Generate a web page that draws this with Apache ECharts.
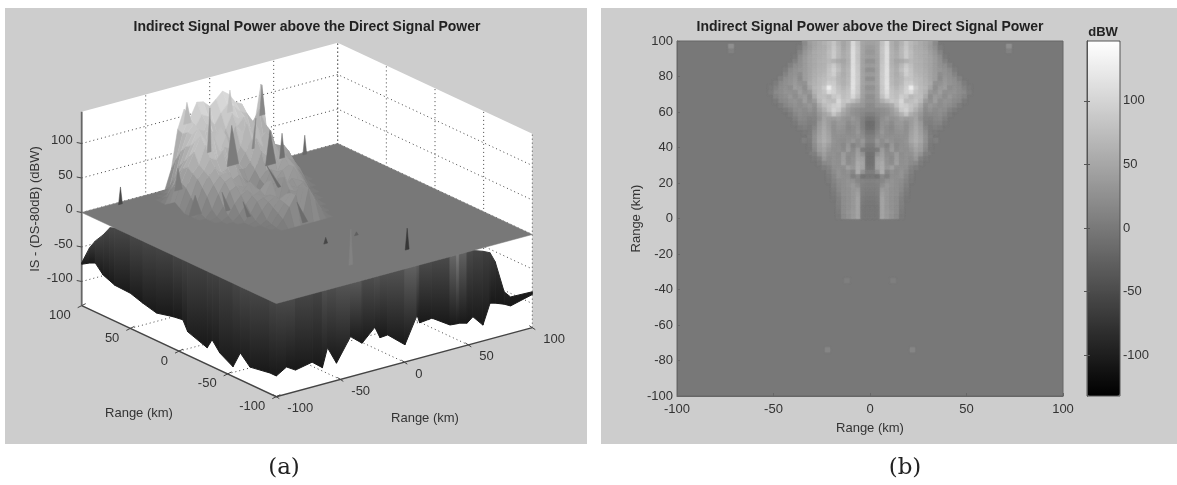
<!DOCTYPE html>
<html><head><meta charset="utf-8">
<style>html,body{margin:0;padding:0;background:#fff}#main{width:1177px;height:485px;filter:blur(0.7px)}</style>
<script src="https://cdn.jsdelivr.net/npm/echarts@6/dist/echarts.min.js"></script>
</head><body><div id="main"></div>
<script>
const titleText = 'Indirect Signal Power above the Direct Signal Power';
const rangeTicks = [-100,-50,0,50,100];
const zTicks = [-100,-50,0,50,100];
const barTicks = [-100,-50,0,50,100];
const zMin = -135, zMax = 146;
const cMin = -132, cMax = 147;

// (b) dBW read from the top view: rows from y=98.75 downward, columns x=1.25,3.75,... (figure is mirror symmetric)
const heatRows = [
[45,50,80,105,60,50,65,85,70,62,55,48,40,20],
[40,48,85,110,62,52,70,88,72,60,58,52,40,28,5],
[35,50,85,112,65,55,72,90,75,62,60,55,45,33,15],
[42,48,85,112,65,58,70,92,75,64,60,55,48,38,25,3],
[30,46,85,112,62,50,55,65,70,64,62,56,48,40,28,12],
[40,48,88,112,65,55,72,90,78,65,62,56,48,40,30,25,10],
[28,46,88,115,68,60,78,98,82,66,64,58,50,40,34,30,22,5],
[40,50,90,115,68,58,72,95,85,70,66,60,52,42,25,32,28,15],
[28,48,90,115,70,62,68,85,85,75,70,62,52,42,22,35,30,25,10],
[40,48,90,118,72,62,72,90,92,78,72,65,55,30,30,38,32,28,20,5],
[30,46,88,118,78,68,80,98,130,90,75,68,50,25,38,42,25,30,25,15,3],
[36,46,88,112,82,75,85,100,110,85,75,65,35,30,42,28,30,32,25,20,5],
[28,45,80,105,85,78,95,88,72,80,78,55,25,40,35,25,35,28,22,15],
[30,40,60,75,88,85,105,75,78,85,72,40,28,42,25,32,30,22,18,3],
[22,35,40,45,55,80,100,95,85,75,55,28,35,30,25,30,25,18,5],
[20,22,28,32,42,60,90,100,80,62,45,22,30,22,28,25,15,5],
[10,18,25,30,38,50,65,85,60,50,35,18,20,20,25,18,5],
[-2,12,28,35,30,35,45,40,42,50,30,15,12,18,20,10],
[-10,10,30,30,22,35,38,30,40,52,38,12,8,15,15,3],
[-8,12,32,25,20,32,35,28,42,55,42,18,5,10,5],
[0,18,35,25,22,30,32,28,45,58,45,25,5,3],
[10,25,32,28,28,28,30,30,50,60,50,30,8],
[15,35,25,35,30,25,28,32,52,62,52,30,5],
[5,30,25,15,35,20,28,30,42,55,45,25,3],
[0,5,40,20,40,22,30,28,35,48,42,20,2],
[-5,30,45,25,25,40,25,30,30,42,30,10],
[-5,45,50,30,22,42,28,30,25,35,12,3],
[-5,50,55,30,25,45,28,30,22,20,5],
[-2,50,58,35,45,28,30,28,15,8],
[8,30,60,18,30,25,32,22,10],
[0,-3,20,10,28,28,32,18,5],
[12,15,18,30,32,28,25,15,3],
[10,12,28,38,32,28,22,10],
[8,10,40,35,30,28,20,6],
[6,8,45,35,30,28,16,4],
[4,6,48,35,30,26,12,2],
[2,4,48,35,30,25,10],
[0,2,48,35,30,25,8],
[0,2,50,38,32,25,6],
[0,0,50,38,30,22,4]
];
const heatSpecks = [[72,97,25],[72,94.5,10],[22,-74,14],[12,-35,7],[34,44,8],[30,37,8]];

// (a) surface heights: rows y=100..0 step 5, columns x=-50..50 step 5
const surfY = [100,95,90,85,80,75,70,65,60,55,50,45,40,35,30,25,20,15,10,5,0];
const surfX = [-50,-45,-40,-35,-30,-25,-20,-15,-10,-5,0,5,10,15,20,25,30,35,40,45,50];
const surfZ = [
[0,0,0,0,28,83,110,96,115,113,104,112,121,114,100,95,73,60,116,41,8],
[0,0,0,8,45,80,100,85,100,95,80,95,105,100,90,85,70,85,60,30,0],
[0,0,5,25,60,85,95,70,90,75,60,75,95,85,85,60,65,40,55,20,0],
[0,5,25,45,70,85,90,85,80,60,55,60,80,90,70,75,55,45,35,25,0],
[0,20,40,55,75,95,80,60,85,70,50,85,75,50,80,65,50,45,40,22,0],
[5,35,50,65,85,90,75,80,95,55,45,60,90,70,60,70,55,40,35,20,0],
[10,35,55,75,95,80,90,65,85,50,40,55,70,85,50,65,45,50,30,15,0],
[5,30,50,60,85,85,60,75,70,40,35,45,75,60,70,55,35,45,25,5,0],
[0,20,45,55,70,65,75,55,50,30,20,35,60,50,65,45,40,35,20,0,0],
[0,10,35,50,60,50,55,60,40,25,5,25,35,60,40,50,30,25,10,0,0],
[0,3,25,40,50,55,40,45,30,20,0,20,40,35,55,45,20,15,0,0,0],
[0,0,10,30,45,50,35,30,35,25,10,25,30,40,45,40,25,5,0,0,0],
[0,0,3,15,35,40,30,40,30,15,20,30,35,25,45,30,15,0,0,0,0],
[0,0,0,5,20,30,35,25,30,40,15,40,25,35,30,25,5,0,0,0,0],
[0,0,0,0,8,20,30,30,25,45,5,45,30,25,30,15,0,0,0,0,0],
[0,0,0,0,0,10,25,28,30,25,10,30,25,30,20,8,0,0,0,0,0],
[0,0,0,0,0,3,15,25,30,20,15,15,30,25,12,0,0,0,0,0,0],
[0,0,0,0,0,0,5,20,30,35,10,40,30,20,5,0,0,0,0,0,0],
[0,0,0,0,0,0,2,15,28,40,5,45,28,15,0,0,0,0,0,0,0],
[0,0,0,0,0,0,0,10,25,40,2,45,25,10,0,0,0,0,0,0,0],
[0,0,0,0,0,0,0,0,0,0,0,0,0,0,0,0,0,0,0,0,0]
];
// isolated spikes on the flat plane: x, y, height, grey tone
const spikes = [[-72,97,25,70],[72,97,28,105],[22,-74,31,55],[-22,-74,52,130],[-12,-35,9,70],[12,-35,5,95]];
// folds of the raised surface, on the slice y=40: apex x, apex z, base left x, base right x, base z, tone
const foldY = 40;
const folds = [
[-63.4,181,-66,-60,150,185],
[-29.8,182,-32,-27.5,150,192],
[-28.4,130,-32,-23,72,124],
[-45.4,164,-47.5,-44.5,100,142],
[-4.8,177,-6.6,-2.4,133,135],
[-1,58,7.7,10,22,108],
[-70.4,89,-73,-67,57,124],
[-57,43,-62,-52,14,118],
[-19.6,15,-16.5,-13.6,-9,110],
[-36,37,-33,-29.5,8,116],
[1.5,108,-2,6,58,112],
[10.9,99,9,13,63,112],
[-9.5,131,-12.6,-10.8,88,135],
[22.6,-7,27,31,-39,108]
];

// underside curtain along the x=-100 edge
const leftY = [100,92,86,78,71,66,50,37,23,6,-4,-9,-29,-34,-42,-55.5,-63,-73,-93.5,-100];
const leftBottom = [-75,-68,-64,-76,-80,-83,-84,-90,-95,-89,-87,-101,-111,-96,-110,-121,-96,-110,-105,-105];
const leftTop = [-73,-46,-32,-18,-3,0,0,0,0,0,0,0,0,0,0,0,0,0,0,0];
const leftTone = [55,62,66,70,72,72,72,72,70,68,70,66,70,64,68,66,74,70,72,70];
// underside curtain along the y=-100 edge
const frontX = [-100,-92,-85,-72,-64,-60,-53,-42,-33,-23,-19,-13,0.5,10,12,21.6,35.7,41,43,49,53.6,61.4,67,71,78,83,100];
const frontBottom = [-105,-96,-104,-99,-111,-84,-110,-77,-91,-73,-90,-89,-110,-72,-84,-82,-99,-100,-100,-103,-96,-112,-83,-85,-90,-95,-87];
const frontTop = [0,0,0,0,0,0,0,0,0,0,0,0,0,0,0,0,0,0,0,0,0,-5,-10,-25,-72,-82,-83];
const frontTone = [75,70,80,60,75,85,70,100,80,75,90,70,95,100,80,70,80,125,125,70,75,60,65,55,40,30,25];

function project(x,y,z){ return [307+1.28*x-0.973*y, 223.5-0.345*x-0.455*y-0.69*z]; }
function grey(v){ v=Math.round(v); return 'rgb('+v+','+v+','+v+')'; }
function surfTone(z){ return 123+z*0.85; }

const heatData = [];
heatRows.forEach((row,r)=>{ const y=98.75-2.5*r; row.forEach((v,c)=>{ const x=1.25+2.5*c; heatData.push([x,y,v]); heatData.push([-x,y,v]); }); });
heatSpecks.forEach(s=>{ heatData.push([s[0],s[1],s[2]]); heatData.push([-s[0],s[1],s[2]]); });
const heatReverse = heatData.slice().reverse();

const faces = [];
function poly(pts,fill,stroke){ faces.push({k:'p',pts,fill,stroke}); }
function line(pts,color,w,dash){ faces.push({k:'l',pts,color,w,dash}); }
function text(p,t,align,dx,dy){ faces.push({k:'t',p,t,align,dx,dy}); }
const a=-100,b=100;
poly([project(a,b,zMax),project(b,b,zMax),project(b,a,zMax),project(b,a,zMin),project(a,a,zMin),project(a,b,zMin)],'#fff');
const dots='#444';
zTicks.forEach(z=>{ line([project(a,b,z),project(b,b,z),project(b,a,z)],dots,1,[1,3]); });
rangeTicks.forEach(t=>{ if(t===a) return;
  line([project(t,b,zMin),project(t,b,zMax)],dots,1,[1,3]);
  if(t!==b) line([project(b,t,zMin),project(b,t,zMax)],dots,1,[1,3]);
  if(t!==b){ line([project(t,a,zMin),project(t,b,zMin)],dots,1,[1,3]); line([project(a,t,zMin),project(b,t,zMin)],dots,1,[1,3]); }
});
line([project(b,b,zMin),project(b,b,zMax)],dots,1,[1,3]);
line([project(b,a,zMin),project(b,a,zMax)],dots,1,[1,3]);
const axisC='#444';
line([project(a,b,zMin),project(a,b,zMax)],'#666',1.8);
line([project(a,b,zMin),project(a,a,zMin),project(b,a,zMin)],axisC,1.5);
zTicks.forEach(z=>{ const p=project(a,b,z); line([[p[0]-5,p[1]-1],p],axisC,1); text(p,String(z),'right',-9,-3); });
rangeTicks.forEach(t=>{ const p=project(a,t,zMin); line([p,[p[0]-4,p[1]+2]],axisC,1); line([p,[p[0]+4,p[1]-2]],axisC,1); text(p,String(t),'right',-11,10);
  const q=project(t,a,zMin); line([q,[q[0]+3,q[1]+2]],axisC,1); line([q,[q[0]-3,q[1]-2]],axisC,1); text(q,String(t),'left',11,12); });
function curtain(n,pf,top,bot,tone){ for(let i=0;i<n-1;i++){ const t=(tone[i]+tone[i+1])/2;
  faces.push({k:'g',pts:[pf(i,top[i]),pf(i+1,top[i+1]),pf(i+1,bot[i+1]),pf(i,bot[i])],top:t}); } }
curtain(leftY.length,(i,z)=>project(a,leftY[i],z),leftTop,leftBottom,leftTone);
curtain(frontX.length,(i,z)=>project(frontX[i],a,z),frontTop,frontBottom,frontTone);
poly([project(a,b,0),project(b,b,0),project(b,a,0),project(a,a,0)],grey(120),grey(120));
for(let r=0;r<surfY.length-1;r++){ for(let c=surfX.length-2;c>=0;c--){
  const z=[surfZ[r][c],surfZ[r][c+1],surfZ[r+1][c+1],surfZ[r+1][c]];
  if(z.every(v=>v===0)) continue;
  const col=grey(surfTone((z[0]+z[1]+z[2]+z[3])/4));
  poly([project(surfX[c],surfY[r],z[0]),project(surfX[c+1],surfY[r],z[1]),project(surfX[c+1],surfY[r+1],z[2]),project(surfX[c],surfY[r+1],z[3])],col,col);
}}
folds.forEach(f=>{ poly([project(f[0],foldY,f[1]),project(f[3],foldY,f[4]),project(f[2],foldY,f[4])],grey(f[5]),grey(f[5])); });
spikes.forEach(s=>{ poly([project(s[0]-1.5,s[1],0),project(s[0]+1.5,s[1],0),project(s[0],s[1],s[2])],grey(s[3]),grey(s[3])); });

const txt='#333';
const font3d='13px "Liberation Sans"';
function heatItem(params,api){
  const x=api.value(0),y=api.value(1),p=api.coord([x-1.3,y+1.3]),q=api.coord([x+1.3,y-1.3]);
  const c=api.visual('color');
  return {type:'rect',shape:{x:p[0],y:p[1],width:q[0]-p[0],height:q[1]-p[1]},style:{fill:c,shadowColor:c,shadowBlur:2}};
}
const option={
  backgroundColor:'#fff', animation:false,
  title:[
    {text:titleText,left:302,top:15,textAlign:'center',textStyle:{fontSize:14,fontWeight:'bold',color:'#222',fontFamily:'Liberation Sans'}},
    {text:titleText,left:865,top:15,textAlign:'center',textStyle:{fontSize:14,fontWeight:'bold',color:'#222',fontFamily:'Liberation Sans'}}
  ],
  graphic:[
    {type:'rect',z:-10,silent:true,shape:{x:5,y:8,width:582,height:436},style:{fill:'#cdcdcd'}},
    {type:'rect',z:-10,silent:true,shape:{x:601,y:8,width:576,height:436},style:{fill:'#cdcdcd'}},
    {type:'rect',z:20,silent:true,shape:{x:1087,y:41,width:33,height:355},style:{fill:null,stroke:'#555',lineWidth:1}},
    {type:'text',z:10,x:284,y:468,style:{text:'(a)',font:'23px "DejaVu Serif"',fill:'#222',textAlign:'center',textVerticalAlign:'middle'}},
    {type:'text',z:10,x:905,y:468,style:{text:'(b)',font:'23px "DejaVu Serif"',fill:'#222',textAlign:'center',textVerticalAlign:'middle'}},
    {type:'text',z:10,x:1103,y:32,style:{text:'dBW',font:'bold 13px "Liberation Sans"',fill:'#222',textAlign:'center',textVerticalAlign:'middle'}},
    {type:'text',z:10,x:35,y:209,rotation:Math.PI/2,style:{text:'IS - (DS-80dB) (dBW)',font:font3d,fill:txt,textAlign:'center',textVerticalAlign:'middle'}},
    {type:'text',z:10,x:139,y:413,style:{text:'Range (km)',font:font3d,fill:txt,textAlign:'center',textVerticalAlign:'middle'}},
    {type:'text',z:10,x:425,y:418,style:{text:'Range (km)',font:font3d,fill:txt,textAlign:'center',textVerticalAlign:'middle'}}
  ],
  grid:[
    {left:677,top:41,width:386,height:355,show:true,backgroundColor:grey(120),borderColor:'#666',borderWidth:1},
    {left:1087,top:41,width:33,height:355,show:false},
    {left:0,top:0,width:1177,height:485,show:false}
  ],
  xAxis:[
    {gridIndex:0,type:'value',min:-100,max:100,interval:50,name:'Range (km)',nameLocation:'middle',nameGap:26,
     nameTextStyle:{fontSize:13,color:txt,fontFamily:'Liberation Sans'},splitLine:{show:false},
     axisLine:{onZero:false,lineStyle:{color:'#666'}},axisTick:{inside:true,length:3,lineStyle:{color:'#666'}},
     axisLabel:{fontSize:13,color:txt,fontFamily:'Liberation Sans',margin:7}},
    {gridIndex:1,type:'value',min:0,max:1,show:false},
    {gridIndex:2,type:'value',min:0,max:1177,show:false}
  ],
  yAxis:[
    {gridIndex:0,type:'value',min:-100,max:100,interval:20,name:'Range (km)',nameLocation:'middle',nameGap:31,
     nameTextStyle:{fontSize:13,color:txt,fontFamily:'Liberation Sans'},splitLine:{show:false},
     axisLine:{onZero:false,lineStyle:{color:'#666'}},axisTick:{inside:true,length:3,lineStyle:{color:'#666'}},
     axisLabel:{fontSize:13,color:txt,fontFamily:'Liberation Sans',margin:4}},
    {gridIndex:1,type:'value',min:cMin,max:cMax,position:'right',z:6,
     splitLine:{show:false},axisLine:{show:true,lineStyle:{color:'#555'}},
     axisTick:{inside:true,length:3,customValues:barTicks,lineStyle:{color:'#555'}},
     axisLabel:{fontSize:13,color:txt,fontFamily:'Liberation Sans',margin:3,customValues:barTicks}},
    {gridIndex:1,type:'value',min:cMin,max:cMax,position:'left',z:6,
     splitLine:{show:false},axisLine:{show:true,lineStyle:{color:'#555'}},
     axisTick:{inside:true,length:3,customValues:barTicks,lineStyle:{color:'#555'}},axisLabel:{show:false}},
    {gridIndex:2,type:'value',min:0,max:485,inverse:true,show:false}
  ],
  visualMap:[{type:'continuous',seriesIndex:[0,1],dimension:2,min:cMin,max:cMax,calculable:false,hoverLink:false,
    left:1087,top:41,padding:0,itemWidth:33,itemHeight:355,text:null,inRange:{color:['#000','#fff']},textStyle:{color:'transparent',fontSize:1},precision:0}],
  series:[
    {type:'custom',xAxisIndex:0,yAxisIndex:0,coordinateSystem:'cartesian2d',data:heatData,silent:true,progressive:0,clip:true,encode:{x:0,y:1},renderItem:heatItem},
    {type:'custom',xAxisIndex:0,yAxisIndex:0,coordinateSystem:'cartesian2d',data:heatReverse,silent:true,progressive:0,clip:true,encode:{x:0,y:1},
     renderItem(params,api){ const el=heatItem(params,api); el.style.opacity=0.5; return el; }},
    {type:'custom',xAxisIndex:2,yAxisIndex:3,coordinateSystem:'cartesian2d',data:faces.map((f,i)=>[i]),silent:true,progressive:0,clip:false,
     encode:{x:[],y:[]},
     renderItem(params,api){
       const f=faces[api.value(0)];
       if(f.k==='t'){ const p=api.coord(f.p);
         return {type:'text',style:{x:p[0]+f.dx,y:p[1]+f.dy,text:f.t,font:font3d,fill:txt,align:f.align,verticalAlign:'middle'}}; }
       const pts=f.pts.map(p=>api.coord(p));
       if(f.k==='l') return {type:'polyline',shape:{points:pts},style:{stroke:f.color,lineWidth:f.w,lineDash:f.dash||null,fill:null}};
       if(f.k==='g'){ const g=new echarts.graphic.LinearGradient(0,0,0,1,[{offset:0,color:grey(f.top)},{offset:1,color:grey(24)}]);
         return {type:'polygon',shape:{points:pts},style:{lineWidth:1,stroke:g,fill:g}}; }
       return {type:'polygon',shape:{points:pts},style:{fill:f.fill,stroke:f.stroke||null,lineWidth:0.5}};
     }}
  ]
};
const chart=echarts.init(document.getElementById('main'),null,{renderer:'canvas'});
chart.setOption(option);
</script></body></html>
